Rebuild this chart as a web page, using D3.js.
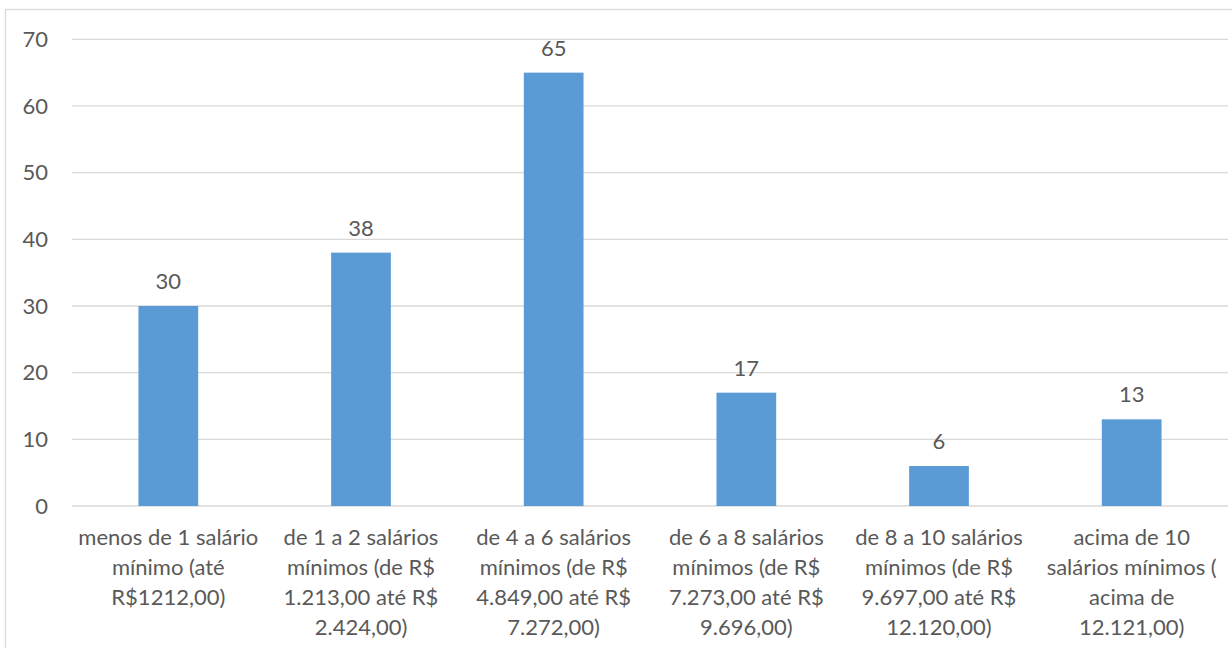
<!doctype html>
<html lang="pt">
<head>
<meta charset="utf-8">
<title>Faixa salarial</title>
<style>
  body { margin: 0; background: #fff; }
  svg { display: block; font-family: Lato, "Open Sans", sans-serif; }
  .grid line { stroke: #d9d9d9; stroke-width: 1.3px; }
  .lbl, .cat { fill: #595959; font-size: 22px; }
</style>
</head>
<body>
<svg id="chart"></svg>
<script src="https://d3js.org/d3.v7.min.js"></script>
<script>
// categories (line breaks as in the chart)
const categories = [
  "menos de 1 salário|mínimo (até|R$1212,00)",
  "de 1 a 2 salários|mínimos (de R$|1.213,00 até R$|2.424,00)",
  "de 4 a 6 salários|mínimos (de R$|4.849,00 até R$|7.272,00)",
  "de 6 a 8 salários|mínimos (de R$|7.273,00 até R$|9.696,00)",
  "de 8 a 10 salários|mínimos (de R$|9.697,00 até R$|12.120,00)",
  "acima de 10|salários mínimos (|acima de|12.121,00)"
];
const values = [30, 38, 65, 17, 6, 13];
const yTicks = [0, 10, 20, 30, 40, 50, 60, 70];

const W = 1232, H = 648;
const mLeft = 72, mRight = 1228, mTop = 39.3, mBottom = 506;

const svg = d3.select("#chart").attr("width", W).attr("height", H);

// chart area border
svg.append("rect")
  .attr("x", 5.5).attr("y", 9.5).attr("width", W).attr("height", H)
  .attr("fill", "none").attr("stroke", "#d9d9d9").attr("stroke-width", 1.3);

const x = d3.scaleBand().domain(categories).range([mLeft, mRight]).paddingInner(0.69).paddingOuter(0.345);
const y = d3.scaleLinear().domain([0, 70]).range([mBottom, mTop]);

// gridlines
svg.append("g").attr("class", "grid")
  .selectAll("line").data(yTicks).enter().append("line")
  .attr("x1", mLeft).attr("x2", mRight)
  .attr("y1", d => y(d)).attr("y2", d => y(d));

// y axis labels
const yAxis = svg.append("g")
  .attr("transform", `translate(${mLeft},0)`)
  .call(d3.axisLeft(y).tickValues(yTicks).tickSize(0).tickPadding(24));
yAxis.select(".domain").remove();
yAxis.selectAll("text").style("fill", "#595959").style("font-size", "22px")
  .style("font-family", "Lato, 'Open Sans', sans-serif");

// bars
svg.append("g").selectAll("rect").data(values).enter().append("rect")
  .attr("x", (d, i) => x(categories[i]))
  .attr("width", x.bandwidth())
  .attr("y", d => y(d))
  .attr("height", d => y(0) - y(d))
  .attr("fill", "#5b9bd5");

// data labels
svg.append("g").selectAll("text").data(values).enter().append("text")
  .attr("class", "lbl")
  .attr("text-anchor", "middle")
  .attr("x", (d, i) => x(categories[i]) + x.bandwidth() / 2)
  .attr("y", d => y(d) - 17)
  .text(d => d);

// category labels
const cat = svg.append("g").selectAll("text").data(categories).enter().append("text")
  .attr("class", "cat")
  .attr("text-anchor", "middle")
  .attr("x", d => x(d) + x.bandwidth() / 2)
  .attr("y", mBottom + 39);
cat.each(function (d) {
  const t = d3.select(this);
  d.split("|").forEach((line, k) => {
    t.append("tspan")
      .attr("x", t.attr("x"))
      .attr("dy", k === 0 ? 0 : 30)
      .text(line);
  });
});
</script>
</body>
</html>
